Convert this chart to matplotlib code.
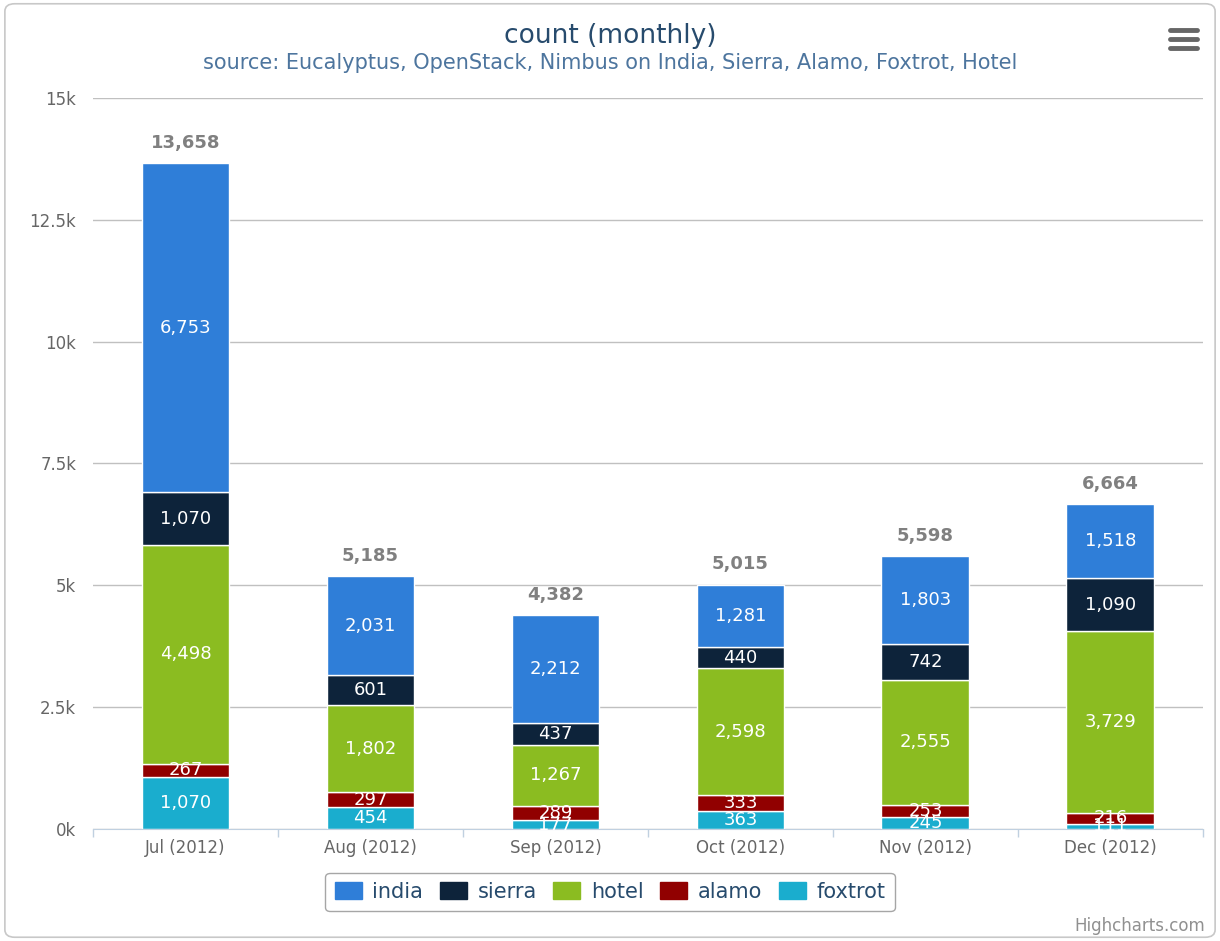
import numpy as np
from matplotlib import pyplot as plt
from matplotlib.patches import FancyBboxPatch, Patch

months = ['Jul (2012)', 'Aug (2012)', 'Sep (2012)', 'Oct (2012)', 'Nov (2012)', 'Dec (2012)']
foxtrot = [1070, 454, 177, 363, 245, 111]
alamo = [267, 297, 289, 333, 253, 216]
hotel = [4498, 1802, 1267, 2598, 2555, 3729]
sierra = [1070, 601, 437, 440, 742, 1090]
india = [6753, 2031, 2212, 1281, 1803, 1518]

# bottom to top stacking
series = [('foxtrot', foxtrot, '#1aadce'),
          ('alamo', alamo, '#910000'),
          ('hotel', hotel, '#8bbc21'),
          ('sierra', sierra, '#0d233a'),
          ('india', india, '#2f7ed8')]

fig = plt.figure(figsize=(12.2, 9.41), dpi=100)
plt.rcParams['font.family'] = 'DejaVu Sans'

# outer rounded border
fig.patches.append(FancyBboxPatch((0.004, 0.004), 0.992, 0.992,
                                  boxstyle='round,pad=0,rounding_size=0.008',
                                  transform=fig.transFigure, facecolor='white',
                                  edgecolor='#c8c8c8', lw=1.2, zorder=-10))

ax = fig.add_axes([0.0762, 0.119, 0.9098, 0.7769])
x = np.arange(len(months))
bottom = np.zeros(len(months))
for name, vals, col in series:
    vals = np.array(vals)
    ax.bar(x, vals, 0.475, bottom=bottom, color=col, edgecolor='white', lw=1, zorder=3)
    for xi, b, v in zip(x, bottom, vals):
        ax.text(xi, b + v / 2, f'{v:,}', ha='center', va='center', color='white',
                fontsize=13, zorder=5)
    bottom = bottom + vals

for xi, t in zip(x, bottom):
    ax.annotate(f'{int(t):,}', (xi, t), xytext=(0, 8), textcoords='offset points',
                ha='center', va='bottom', fontsize=13, fontweight='bold', color='#808080')

ax.set_xlim(-0.5, len(months) - 0.5)
ax.set_ylim(0, 15000)
ax.set_yticks(np.arange(0, 15001, 2500))
ax.set_yticklabels(['0k', '2.5k', '5k', '7.5k', '10k', '12.5k', '15k'])
ax.set_xticks(x)
ax.set_xticklabels(months)
ax.set_xticks(np.arange(-0.5, len(months)), minor=True)
ax.tick_params(axis='x', which='major', length=0, pad=7, labelsize=12, labelcolor='#666666')
ax.tick_params(axis='x', which='minor', length=6, color='#c0d0e0', width=1)
ax.tick_params(axis='y', length=0, pad=12, labelsize=12, labelcolor='#666666')
ax.grid(axis='y', color='#c0c0c0', lw=1, zorder=0)
for s in ['top', 'right', 'left']:
    ax.spines[s].set_visible(False)
ax.spines['bottom'].set_color('#c0d0e0')
ax.spines['bottom'].set_zorder(4)

fig.text(0.5, 1 - 36 / 941, 'count (monthly)', ha='center', va='center',
         fontsize=19, color='#274b6d')
fig.text(0.5, 1 - 63 / 941,
         'source: Eucalyptus, OpenStack, Nimbus on India, Sierra, Alamo, Foxtrot, Hotel',
         ha='center', va='center', fontsize=15, color='#4d759e')

handles = [Patch(facecolor=c, edgecolor=c, label=n) for n, v, c in series[::-1]]
leg = fig.legend(handles=handles, loc='center', bbox_to_anchor=(0.5, 1 - 892 / 941),
                 ncol=5, fontsize=15, frameon=True, fancybox=True, edgecolor='#909090',
                 handlelength=1.3, handleheight=0.9, handletextpad=0.5, columnspacing=0.8,
                 borderpad=0.45)
for t in leg.get_texts():
    t.set_color('#274b6d')
leg.get_frame().set_linewidth(1.0)

fig.text(0.988, 1 - 926 / 941, 'Highcharts.com', ha='right', va='center',
         fontsize=12, color='#909090')

# export menu icon
for yy in [30, 39, 48]:
    fig.add_artist(plt.Line2D([1170 / 1220, 1197 / 1220], [1 - yy / 941, 1 - yy / 941],
                              transform=fig.transFigure, color='#666666', lw=3.5,
                              solid_capstyle='round'))

plt.savefig('out.png', dpi=100)
